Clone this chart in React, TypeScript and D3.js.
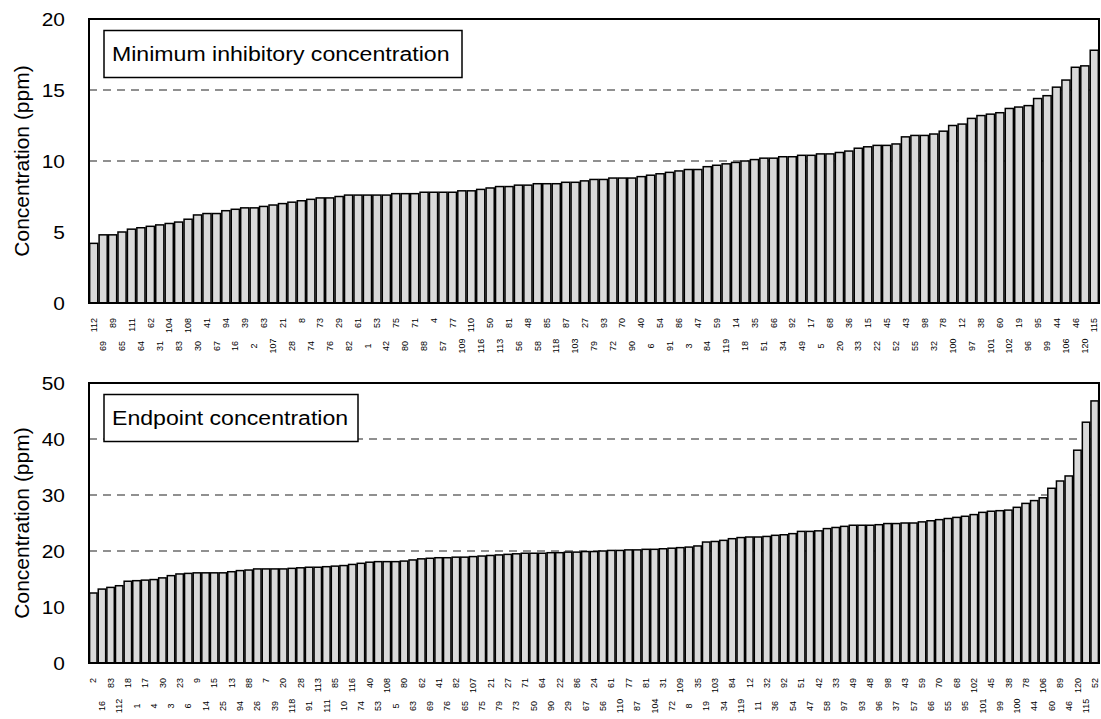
import React from "react";
import * as d3 from "d3";

// ---------- Data ----------
const micIds = [112, 69, 89, 65, 111, 64, 62, 31, 104, 83, 108, 30, 41, 67, 94, 16, 39, 2, 63, 107, 21, 28, 8, 74, 73, 76, 29, 82, 61, 1, 53, 42, 75, 80, 71, 88, 4, 57, 77, 109, 110, 116, 50, 113, 81, 56, 48, 58, 85, 118, 87, 103, 27, 79, 93, 72, 70, 90, 40, 6, 54, 91, 86, 3, 47, 84, 59, 119, 14, 18, 35, 51, 66, 34, 92, 49, 17, 5, 68, 20, 36, 33, 15, 22, 45, 52, 43, 55, 98, 32, 78, 100, 12, 97, 38, 101, 60, 102, 19, 96, 95, 99, 44, 106, 46, 120, 115];
const micValues = [4.2, 4.8, 4.8, 5.0, 5.2, 5.3, 5.4, 5.5, 5.6, 5.7, 5.9, 6.2, 6.3, 6.3, 6.5, 6.6, 6.7, 6.7, 6.8, 6.9, 7.0, 7.1, 7.2, 7.3, 7.4, 7.4, 7.5, 7.6, 7.6, 7.6, 7.6, 7.6, 7.7, 7.7, 7.7, 7.8, 7.8, 7.8, 7.8, 7.9, 7.9, 8.0, 8.1, 8.2, 8.2, 8.3, 8.3, 8.4, 8.4, 8.4, 8.5, 8.5, 8.6, 8.7, 8.7, 8.8, 8.8, 8.8, 8.9, 9.0, 9.1, 9.2, 9.3, 9.4, 9.4, 9.6, 9.7, 9.8, 9.9, 10.0, 10.1, 10.2, 10.2, 10.3, 10.3, 10.4, 10.4, 10.5, 10.5, 10.6, 10.7, 10.9, 11.0, 11.1, 11.1, 11.2, 11.7, 11.8, 11.8, 11.9, 12.1, 12.5, 12.6, 13.0, 13.2, 13.3, 13.4, 13.7, 13.8, 13.9, 14.4, 14.6, 15.2, 15.7, 16.6, 16.7, 17.8];

const endIds = [2, 16, 83, 112, 18, 1, 17, 4, 30, 3, 23, 6, 9, 14, 15, 25, 13, 94, 88, 26, 7, 39, 20, 118, 28, 91, 113, 111, 85, 10, 116, 74, 40, 53, 108, 5, 80, 63, 62, 69, 41, 76, 82, 65, 107, 75, 21, 79, 27, 73, 71, 50, 64, 90, 22, 29, 86, 67, 24, 56, 61, 110, 77, 87, 81, 104, 31, 72, 109, 8, 35, 19, 103, 34, 84, 119, 12, 11, 32, 36, 92, 54, 51, 47, 42, 58, 33, 97, 49, 93, 48, 96, 98, 37, 43, 57, 59, 66, 70, 55, 68, 95, 102, 101, 45, 99, 38, 100, 78, 44, 106, 60, 89, 46, 120, 115, 52];
const endValues = [12.5, 13.2, 13.5, 13.8, 14.6, 14.7, 14.8, 14.9, 15.2, 15.6, 15.9, 16.0, 16.1, 16.1, 16.1, 16.1, 16.3, 16.5, 16.6, 16.8, 16.8, 16.8, 16.8, 16.9, 17.0, 17.1, 17.1, 17.2, 17.3, 17.4, 17.6, 17.8, 18.0, 18.1, 18.1, 18.1, 18.2, 18.4, 18.6, 18.7, 18.8, 18.8, 18.9, 18.9, 19.0, 19.1, 19.2, 19.3, 19.4, 19.5, 19.6, 19.6, 19.6, 19.7, 19.7, 19.8, 19.8, 19.9, 19.9, 20.0, 20.1, 20.1, 20.2, 20.2, 20.3, 20.3, 20.4, 20.5, 20.6, 20.7, 20.9, 21.6, 21.7, 21.9, 22.2, 22.4, 22.5, 22.5, 22.6, 22.8, 22.9, 23.1, 23.5, 23.5, 23.6, 24.0, 24.2, 24.4, 24.6, 24.6, 24.6, 24.7, 24.9, 24.9, 25.0, 25.0, 25.2, 25.4, 25.6, 25.8, 26.0, 26.2, 26.5, 26.9, 27.1, 27.2, 27.3, 27.8, 28.5, 29.0, 29.5, 31.2, 32.5, 33.4, 38.0, 43.0, 46.8];

const micTicks = [0, 5, 10, 15, 20];
const micGrid = [10, 15];
const endTicks = [0, 10, 20, 30, 40, 50];
const endGrid = [20, 30, 40];

const yTitle = "Concentration (ppm)";
const micTitle = "Minimum inhibitory concentration";
const endTitle = "Endpoint concentration";

const FONT = "'Liberation Sans', Arial, sans-serif";
const SX = 1.1; // horizontal stretch of the original chart's text

type PanelProps = {
  ids: number[];
  values: number[];
  top: number;
  bottom: number;
  max: number;
  ticks: number[];
  grid: number[];
  title: string;
  boxW: number;
};

function Panel({ ids, values, top, bottom, max, ticks, grid, title, boxW }: PanelProps) {
  const left = 89;
  const right = 1099;
  const x = d3
    .scaleBand<number>()
    .domain(d3.range(ids.length))
    .range([left, right])
    .paddingInner(0.14)
    .paddingOuter(0.07);
  const y = d3.scaleLinear().domain([0, max]).range([bottom, top]);
  const bw = x.bandwidth();
  const midY = (top + bottom) / 2;

  return (
    <g>
      {grid.map((g) => (
        <line
          key={"g" + g}
          x1={left}
          x2={right}
          y1={y(g)}
          y2={y(g)}
          stroke="#222"
          strokeWidth={1.2}
          strokeDasharray="8,6"
        />
      ))}
      {values.map((v, i) => (
        <rect
          key={"b" + i}
          x={x(i)!}
          y={y(v)}
          width={bw}
          height={y(0) - y(v)}
          fill="#d9d9d9"
          stroke="#000"
          strokeWidth={1.5}
        />
      ))}
      <rect x={left} y={top} width={right - left} height={bottom - top} fill="none" stroke="#000" strokeWidth={2} />
      <rect x={104} y={top + 11.5} width={boxW} height={47} fill="#fff" stroke="#000" strokeWidth={1.5} />
      <text
        transform={`translate(112,${top + 42}) scale(${SX},1)`}
        fontFamily={FONT}
        fontSize={21}
        fill="#000"
      >
        {title}
      </text>
      {ticks.map((t) => (
        <text
          key={"t" + t}
          transform={`translate(65,${y(t)}) scale(${SX},1)`}
          textAnchor="end"
          dominantBaseline="central"
          fontFamily={FONT}
          fontSize={19}
          fill="#000"
        >
          {t}
        </text>
      ))}
      <text
        transform={`translate(29,${midY}) rotate(-90)`}
        textAnchor="middle"
        fontFamily={FONT}
        fontSize={21}
        fill="#000"
      >
        {yTitle}
      </text>
      {ids.map((id, i) => {
        const cx = x(i)! + bw / 2;
        const upper = i % 2 === 0;
        const ly = upper ? bottom + 15 : bottom + 43;
        return (
          <g key={"l" + i} transform={`translate(${cx},${ly})`}>
            <text
              transform="rotate(-90)"
              textAnchor={upper ? "end" : "middle"}
              dy="0.35em"
              fontFamily={FONT}
              fontSize={9}
              fill="#000"
            >
              {id}
            </text>
          </g>
        );
      })}
    </g>
  );
}

export default function App() {
  return (
    <svg width={1101} height={719} style={{ position: "absolute", left: 0, top: 0, background: "#fff" }}>
      <rect x={0} y={0} width={1101} height={719} fill="#fff" />
      <Panel ids={micIds} values={micValues} top={19} bottom={303} max={20} ticks={micTicks} grid={micGrid} title={micTitle} boxW={358} />
      <Panel ids={endIds} values={endValues} top={383} bottom={663} max={50} ticks={endTicks} grid={endGrid} title={endTitle} boxW={254} />
    </svg>
  );
}
